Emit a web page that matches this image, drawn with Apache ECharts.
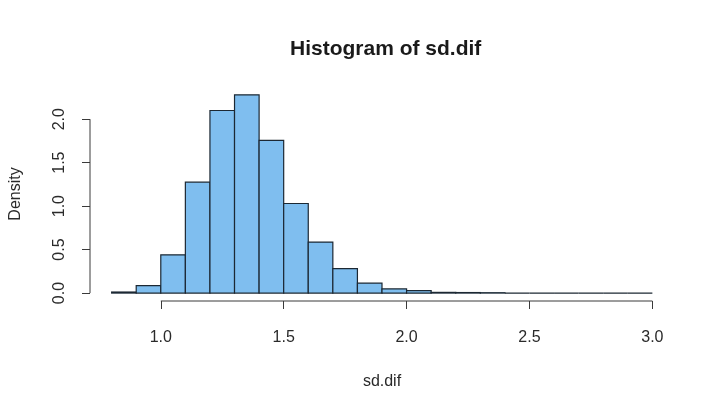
<!DOCTYPE html>
<html>
<head>
<meta charset="utf-8">
<script src="https://cdn.jsdelivr.net/npm/echarts@6/dist/echarts.min.js"></script>
<style>
  html, body { margin: 0; padding: 0; background: #fff; }
  #main { width: 720px; height: 412px; }
</style>
</head>
<body>
<div id="main"></div>
<script>
// bin edges and density per bin
var binStart = [0.8, 0.9, 1.0, 1.1, 1.2, 1.3, 1.4, 1.5, 1.6, 1.7, 1.8, 1.9, 2.0, 2.1, 2.2, 2.3, 2.4, 2.5, 2.6, 2.7, 2.8, 2.9];
var density  = [0.012, 0.085, 0.44, 1.275, 2.10, 2.28, 1.757, 1.03, 0.586, 0.28, 0.115, 0.048, 0.028, 0.008, 0.006, 0.004, 0, 0, 0, 0, 0, 0];
var binWidth = 0.1;
var xTicks = [1.0, 1.5, 2.0, 2.5, 3.0];
var yTicks = [0.0, 0.5, 1.0, 1.5, 2.0];

// R style: axis ranges padded 4% past the data
var xMin = 0.712, xMax = 3.088;
var yMin = -0.0912, yMax = 2.37;

var histData = [];
for (var i = 0; i < binStart.length; i++) {
    histData.push([binStart[i], binStart[i] + binWidth, density[i]]);
}

var font = "'Liberation Sans', Arial, sans-serif";
var textColor = '#2a2a2a';
var lineColor = '#3a3a3a';

var chart = echarts.init(document.getElementById('main'));

var option = {
    backgroundColor: '#fff',
    animation: false,
    title: {
        text: 'Histogram of sd.dif',
        left: 285,
        top: 34,
        textStyle: { fontFamily: font, fontSize: 21, fontWeight: 'bold', color: '#1a1a1a' }
    },
    grid: { left: 89, right: 46, top: 87, bottom: 111 },
    xAxis: {
        type: 'value',
        min: xMin,
        max: xMax,
        name: 'sd.dif',
        nameLocation: 'middle',
        nameGap: 73,
        nameTextStyle: { fontFamily: font, fontSize: 16, color: textColor },
        axisLine: { show: false, onZero: false },
        splitLine: { show: false },
        axisTick: { show: true, length: 8, customValues: xTicks, lineStyle: { color: lineColor, width: 1 } },
        axisLabel: {
            customValues: xTicks,
            margin: 29,
            fontFamily: font, fontSize: 16, color: textColor,
            formatter: function (v) { return v.toFixed(1); }
        }
    },
    yAxis: {
        type: 'value',
        min: yMin,
        max: yMax,
        name: 'Density',
        nameLocation: 'middle',
        nameGap: 66,
        nameTextStyle: { fontFamily: font, fontSize: 16, color: textColor },
        axisLine: { show: false, onZero: false },
        splitLine: { show: false },
        axisTick: { show: true, length: 8, customValues: yTicks, lineStyle: { color: lineColor, width: 1 } },
        axisLabel: {
            customValues: yTicks,
            rotate: 90,
            margin: 22,
            fontFamily: font, fontSize: 16, color: textColor,
            formatter: function (v) { return v.toFixed(1); }
        }
    },
    series: [
        {
            name: 'hist',
            type: 'custom',
            clip: false,
            renderItem: function (params, api) {
                var p0 = api.coord([api.value(0), 0]);
                var p1 = api.coord([api.value(1), api.value(2)]);
                return {
                    type: 'rect',
                    shape: { x: p0[0], y: p1[1], width: p1[0] - p0[0], height: p0[1] - p1[1] },
                    style: { fill: '#7fbeef', stroke: '#1c2833', lineWidth: 1.2 }
                };
            },
            encode: { x: [0, 1], y: 2 },
            data: histData
        },
        {
            // axis lines only span first..last tick, like base R
            name: 'axes',
            type: 'custom',
            clip: false,
            silent: true,
            renderItem: function (params, api) {
                var xa = api.coord([xTicks[0], yMin]);
                var xb = api.coord([xTicks[xTicks.length - 1], yMin]);
                var ya = api.coord([xMin, yTicks[0]]);
                var yb = api.coord([xMin, yTicks[yTicks.length - 1]]);
                return {
                    type: 'group',
                    children: [
                        { type: 'line', shape: { x1: xa[0], y1: xa[1], x2: xb[0], y2: xb[1] }, style: { stroke: lineColor, lineWidth: 1 } },
                        { type: 'line', shape: { x1: ya[0], y1: ya[1], x2: yb[0], y2: yb[1] }, style: { stroke: lineColor, lineWidth: 1 } }
                    ]
                };
            },
            data: [[xMin, yMin]]
        }
    ]
};

chart.setOption(option);
</script>
</body>
</html>
